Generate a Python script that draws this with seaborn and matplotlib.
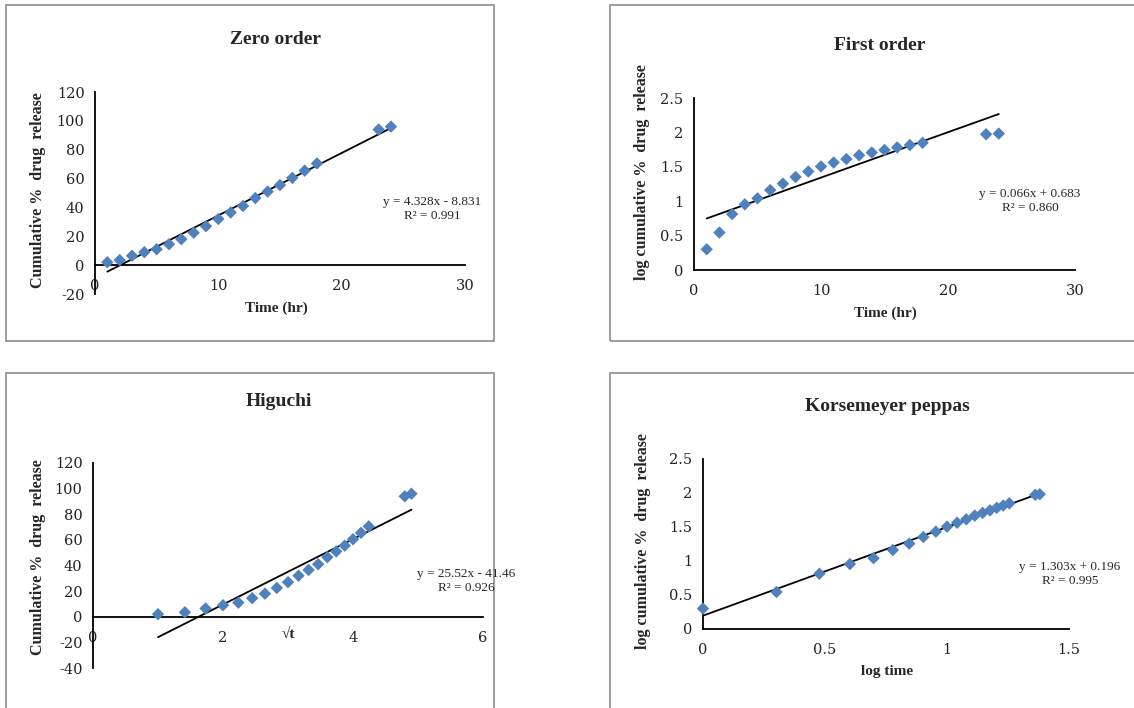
import numpy as np
import pandas as pd
import matplotlib
matplotlib.use('Agg')
import matplotlib.pyplot as plt
from matplotlib.patches import Rectangle
import seaborn as sns

sns.set_style('white')
plt.rcParams['font.family'] = ['DejaVu Serif', 'DejaVu Sans']

# release data
time_hr = [1, 2, 3, 4, 5, 6, 7, 8, 9, 10, 11, 12, 13, 14, 15, 16, 17, 18, 23, 24]
cum_release = [2, 3.5, 6.5, 9, 11, 14.5, 18, 22.5, 27, 32, 36.5, 41, 46.5, 51,
               55.5, 60.5, 65.5, 70.5, 94, 96]

# trendline coefficients as printed on the chart (slope, intercept)
zero_fit = (4.328, -8.831)
first_fit = (0.066, 0.683)
higuchi_fit = (25.52, -41.46)
peppas_fit = (1.303, 0.196)

zero_eq = ['y = 4.328x - 8.831', 'R² = 0.991']
first_eq = ['y = 0.066x + 0.683', 'R² = 0.860']
higuchi_eq = ['y = 25.52x - 41.46', 'R² = 0.926']
peppas_eq = ['y = 1.303x + 0.196', 'R² = 0.995']

df = pd.DataFrame({'t': time_hr, 'rel': cum_release})
df['sqrt_t'] = np.sqrt(df['t'])
df['log_t'] = np.log10(df['t'])
df['log_rel'] = np.log10(df['rel'])

W, H = 1134, 708
fig = plt.figure(figsize=(W / 100, H / 100), dpi=100)


def px(x, y):
    return x / W, 1 - y / H


def add_axes(l, t, r, b):
    return fig.add_axes([l / W, 1 - b / H, (r - l) / W, (b - t) / H])


blue = '#4F81BD'
serif = 'Liberation Serif'


def fmt(v):
    return '%g' % v


def panel(ax, xcol, ycol, fit, xlim, ylim, xticks, yticks):
    sns.scatterplot(data=df, x=xcol, y=ycol, ax=ax, marker='D', s=40,
                    color=blue, edgecolor='none', zorder=3, clip_on=False)
    xs = np.array([df[xcol].min(), df[xcol].max()])
    line = pd.DataFrame({'x': xs, 'y': fit[0] * xs + fit[1]})
    sns.lineplot(data=line, x='x', y='y', ax=ax, color='black', lw=1.3, zorder=2)
    ax.set_xlim(*xlim)
    ax.set_ylim(*ylim)
    ax.set_xticks(xticks)
    ax.set_yticks(yticks)
    ax.set_xticklabels([fmt(v) for v in xticks], family='DejaVu Serif')
    ax.set_yticklabels([fmt(v) for v in yticks], family='DejaVu Serif')
    ax.set_xlabel('')
    ax.set_ylabel('')
    for s in ['top', 'right']:
        ax.spines[s].set_visible(False)
    ax.spines['bottom'].set_position(('data', 0))
    ax.spines['left'].set_position(('data', xlim[0]))
    for s in ['left', 'bottom']:
        ax.spines[s].set_color('black')
        ax.spines[s].set_linewidth(1.3)
    ax.tick_params(axis='both', direction='out', length=4, width=1.2,
                   color='black', labelsize=10.5, labelcolor='#222222')
    ax.tick_params(axis='x', pad=6)
    ax.set_facecolor('none')


# Zero order
ax1 = add_axes(95, 92, 465, 294)
panel(ax1, 't', 'rel', zero_fit, (0, 30), (-20, 120), [0, 10, 20, 30],
      [-20, 0, 20, 40, 60, 80, 100, 120])

# First order
ax2 = add_axes(694, 98, 1075, 270)
panel(ax2, 't', 'log_rel', first_fit, (0, 30), (0, 2.5), [0, 10, 20, 30],
      [0, 0.5, 1, 1.5, 2, 2.5])

# Higuchi
ax3 = add_axes(93, 463, 483, 668)
panel(ax3, 'sqrt_t', 'rel', higuchi_fit, (0, 6), (-40, 120), [0, 2, 4, 6],
      [-40, -20, 0, 20, 40, 60, 80, 100, 120])

# Korsemeyer peppas
ax4 = add_axes(703, 459, 1069, 629)
panel(ax4, 'log_t', 'log_rel', peppas_fit, (0, 1.5), (0, 2.5), [0, 0.5, 1, 1.5],
      [0, 0.5, 1, 1.5, 2, 2.5])

# panel frames
for (l, t, r, b) in [(6, 5, 494, 341), (610, 5, 1140, 341),
                     (6, 373, 494, 712), (610, 373, 1140, 712)]:
    fig.patches.append(Rectangle(px(l, b), (r - l) / W, (b - t) / H,
                                 transform=fig.transFigure, fill=False,
                                 edgecolor='#8c8c8c', lw=1.2))

# titles
for txt, x, y in [('Zero order', 276, 40), ('First order', 880, 45),
                  ('Higuchi', 279, 401), ('Korsemeyer peppas', 887, 407)]:
    fig.text(*px(x, y), txt, family=serif, weight='bold', fontsize=14,
             ha='center', va='center')

# axis labels
for txt, x, y in [('Time (hr)', 276, 308), ('Time (hr)', 885, 313),
                  ('√t', 288, 634), ('log time', 887, 671)]:
    fig.text(*px(x, y), txt, family=serif, weight='bold', fontsize=11,
             ha='center', va='center')

for txt, x, y in [('Cumulative %  drug  release', 38, 190),
                  ('log cumulative %  drug  release', 642, 172),
                  ('Cumulative %  drug  release', 38, 557),
                  ('log cumulative %  drug  release', 643, 541)]:
    fig.text(*px(x, y), txt, family=serif, weight='bold', fontsize=11.5,
             ha='center', va='center', rotation=90)

# trendline equations
for eq, x, y in [(zero_eq, 432, 202), (first_eq, 1030, 194),
                 (higuchi_eq, 466, 574), (peppas_eq, 1070, 567)]:
    fig.text(*px(x, y), eq[0], family=serif, fontsize=9.5, ha='center', va='center')
    fig.text(*px(x, y + 14), eq[1], family=serif, fontsize=9.5, ha='center', va='center')

fig.savefig('out.png', dpi=100)
